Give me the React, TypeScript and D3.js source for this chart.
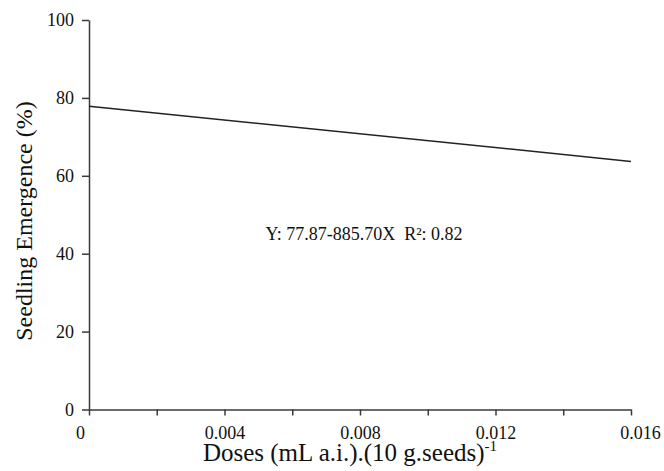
import React, { useRef, useEffect } from "react";
import * as d3 from "d3";

// regression line end points
const doses = [0, 0.016];
const emergence = [77.87, 63.7];

const xTicks = [0, 0.002, 0.004, 0.006, 0.008, 0.01, 0.012, 0.014, 0.016];
const xLabels = ["0", "", "0.004", "", "0.008", "", "0.012", "", "0.016"];
const yTicks = [0, 20, 40, 60, 80, 100];

const equation = "Y: 77.87-885.70X  R²: 0.82";

const App = () => {
  const chartRef = useRef<SVGSVGElement>(null);

  useEffect(() => {
    const width = 664;
    const height = 471;
    const margin = { top: 20, right: 33, bottom: 61.5, left: 89 };
    const font = "'Liberation Serif', 'Times New Roman', serif";
    const ink = "#3a3a3a";

    const svg = d3.select(chartRef.current);
    svg.selectAll("*").remove();
    svg.attr("width", width).attr("height", height);

    const xScale = d3
      .scaleLinear()
      .domain([0, 0.016])
      .range([margin.left, width - margin.right]);
    const yScale = d3
      .scaleLinear()
      .domain([0, 100])
      .range([height - margin.bottom, margin.top]);

    // y axis
    const yAxis = d3
      .axisLeft(yScale)
      .tickValues(yTicks)
      .tickSize(7)
      .tickSizeOuter(0)
      .tickPadding(8)
      .tickFormat((d) => String(d));
    const gy = svg
      .append("g")
      .attr("transform", `translate(${margin.left},0)`)
      .call(yAxis);

    // x axis
    const xAxis = d3
      .axisBottom(xScale)
      .tickValues(xTicks)
      .tickSize(6)
      .tickSizeOuter(0)
      .tickPadding(8)
      .tickFormat((_, i) => xLabels[i]);
    const gx = svg
      .append("g")
      .attr("transform", `translate(0,${yScale(0)})`)
      .call(xAxis);
    gx.selectAll(".tick text")
      .attr("dx", (_, i) => (i === 0 ? -9 : i === xTicks.length - 1 ? 9 : 0))
      .attr("dy", "0.85em");

    [gx, gy].forEach((g) => {
      g.attr("font-family", font);
      g.selectAll("path, line").attr("stroke", ink).attr("stroke-width", 1.5);
      g.selectAll("text")
        .attr("fill", "#111")
        .style("font-family", font)
        .style("font-size", "18px");
    });

    // regression line
    const line = d3
      .line<number>()
      .x((_, i) => xScale(doses[i]))
      .y((d) => yScale(d));
    svg
      .append("path")
      .datum(emergence)
      .attr("d", line)
      .attr("fill", "none")
      .attr("stroke", "#222")
      .attr("stroke-width", 1.5);

    // equation
    svg
      .append("text")
      .attr("x", 364)
      .attr("y", 240)
      .attr("text-anchor", "middle")
      .attr("fill", "#111")
      .style("font-family", font)
      .style("font-size", "18px")
      .style("white-space", "pre")
      .text(equation);

    // axis titles
    svg
      .append("text")
      .attr("transform", `translate(32,221) rotate(-90)`)
      .attr("text-anchor", "middle")
      .attr("fill", "#111")
      .style("font-family", font)
      .style("font-size", "24px")
      .text("Seedling Emergence (%)");

    const xt = svg
      .append("text")
      .attr("x", 350)
      .attr("y", 461)
      .attr("text-anchor", "middle")
      .attr("fill", "#111")
      .style("font-family", font)
      .style("font-size", "25px");
    xt.append("tspan").text("Doses (mL a.i.).(10 g.seeds)");
    xt.append("tspan")
      .attr("dy", -10)
      .style("font-size", "15px")
      .text("-1");

    return () => {
      svg.selectAll("*").remove();
    };
  }, []);

  return (
    <svg
      ref={chartRef}
      style={{ position: "absolute", left: 0, top: 0, background: "#fff" }}
    />
  );
};

export default App;
